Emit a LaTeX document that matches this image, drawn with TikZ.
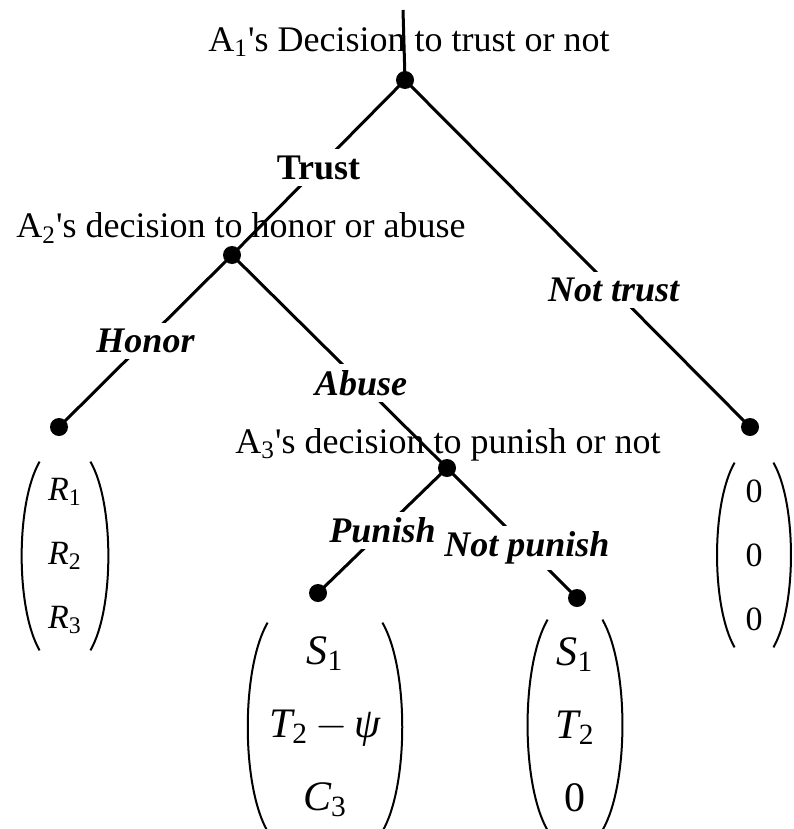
\documentclass[tikz,border=0pt]{standalone}
\usepackage{amsmath}
\usepackage{fontspec}
\setmainfont{Liberation Serif}
\usetikzlibrary{positioning}
\newcommand{\pay}[2]{$\textit{#1}_{\text{#2}}$}
\tikzset{
  br/.style={line width=1.5pt},
  par/.style={line width=1pt,looseness=0.65},
  dot/.style={circle,fill=black,inner sep=0pt,minimum size=9pt},
  who/.style={font=\fontsize{18}{20}\selectfont,inner sep=0pt},
  act/.style={fill=white,inner sep=3pt,font=\fontsize{18}{20}\selectfont\bfseries\itshape},
  vec/.style={inner sep=0pt,align=center,font=\fontsize{17}{32}\selectfont},
  bigvec/.style={inner sep=0pt,align=center,font=\fontsize{21}{36.5}\selectfont}
}

\begin{document}
\begin{tikzpicture}[x=0.5pt,y=-0.5pt]
\useasboundingbox (0,0) rectangle (793,829);
\node[who] (d1) at (409,42) {A\textsubscript{1}\textquotesingle s Decision to trust or not};
\node[who] (d2) at (241,228) {A\textsubscript{2}\textquotesingle s decision to honor or abuse};
\node[who] (d3) at (448,445) {A\textsubscript{3}\textquotesingle s decision to punish or not};
\coordinate (top) at (403,10);
\node[dot] (a1) at (405,80) {};
\node[dot] (a2) at (232,255) {};
\node[dot] (a3) at (447,468) {};
\node[dot] (hon) at (59,427) {};
\node[dot] (nt) at (750,427) {};
\node[dot] (pun) at (318,593) {};
\node[dot] (np) at (577,598) {};
\draw[br] (top) -- (a1.center);
\draw[br] (a1.center) -- (a2.center) node[act,pos=0.5] {\upshape Trust};
\draw[br] (a1.center) -- (nt.center) node[act,pos=0.605] {Not trust};
\draw[br] (a2.center) -- (hon.center) node[act,pos=0.5] {Honor};
\draw[br] (a2.center) -- (a3.center) node[act,pos=0.6] {Abuse};
\draw[br] (a3.center) -- (pun.center) node[act,pos=0.5] {Punish};
\draw[br] (a3.center) -- (np.center) node[act,pos=0.615] {Not punish};
\node[vec,minimum width=25pt,minimum height=94pt] (honpay) at (65,556) {\pay{R}{1}\\ \pay{R}{2}\\ \pay{R}{3}};
\node[vec,minimum width=19pt,minimum height=92pt] (ntpay) at (754,555) {0\\ 0\\ 0};
\node[bigvec,minimum width=57pt,minimum height=104pt] (punpay) at (325,727) {\pay{S}{1}\\ \pay{T}{2}$\,-\,$\textit{ψ}\\ \pay{C}{3}};
\node[bigvec,minimum width=27pt,minimum height=105pt] (nppay) at (575,725) {\pay{S}{1}\\ \pay{T}{2}\\ 0};
\foreach \v in {honpay,ntpay,punpay,nppay}{
  \draw[par] (\v.north west) to[out=240,in=120] (\v.south west);
  \draw[par] (\v.north east) to[out=300,in=60] (\v.south east);
}
\end{tikzpicture}
\end{document}
